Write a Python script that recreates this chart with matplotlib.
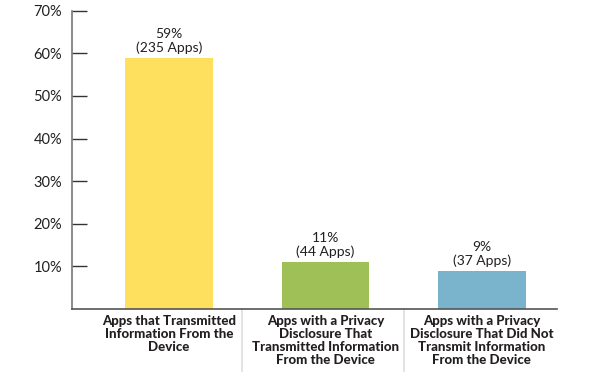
import matplotlib
matplotlib.use("Agg")
import matplotlib.pyplot as plt

categories = ["Apps that Transmitted\nInformation From the\nDevice",
              "Apps with a Privacy\nDisclosure That\nTransmitted Information\nFrom the Device",
              "Apps with a Privacy\nDisclosure That Did Not\nTransmit Information\nFrom the Device"]
values = [59, 11, 9]
app_counts = [235, 44, 37]
colors = ["#FEDF5E", "#9FBF57", "#7AB4CC"]
yticks = [10, 20, 30, 40, 50, 60, 70]

plt.rcParams['font.family'] = ['Lato', 'DejaVu Sans']
fig = plt.figure(figsize=(6, 3.78), dpi=100)
ax = fig.add_axes([0.12, 0.1825, 0.808, 0.789])
x = list(range(len(values)))
ax.bar(x, values, width=0.56, color=colors)
for xi, v, n in zip(x, values, app_counts):
    ax.text(xi, v + 0.9, f"{v}%\n({n} Apps)", ha='center', va='bottom',
            fontsize=10, color='#231f20', linespacing=1.15)
ax.set_xlim(-0.62, 2.48)
ax.set_ylim(0, 70)
ax.set_yticks(yticks)
ax.set_yticklabels([f"{t}%" for t in yticks], fontsize=10.5, color='#231f20')
ax.tick_params(axis='y', direction='in', length=11, width=1, color='#333333', pad=7)
ax.set_xticks([])
for s in ['top', 'right']:
    ax.spines[s].set_visible(False)
ax.spines['left'].set_color('#777777')
ax.spines['bottom'].set_color('#555555')
ax.spines['left'].set_linewidth(1.2)
ax.spines['bottom'].set_linewidth(1.2)
for xi, c in zip(x, categories):
    ax.text(xi, -1.3, c, ha='center', va='top', fontsize=9.5, fontweight='black',
            color='#231f20', linespacing=1.1, transform=ax.transData, clip_on=False)
for sx in [0.47, 1.5]:
    ax.plot([sx, sx], [0, -14.5], color='#dddddd', lw=1.2, clip_on=False)
fig.savefig("out.png", dpi=100)
